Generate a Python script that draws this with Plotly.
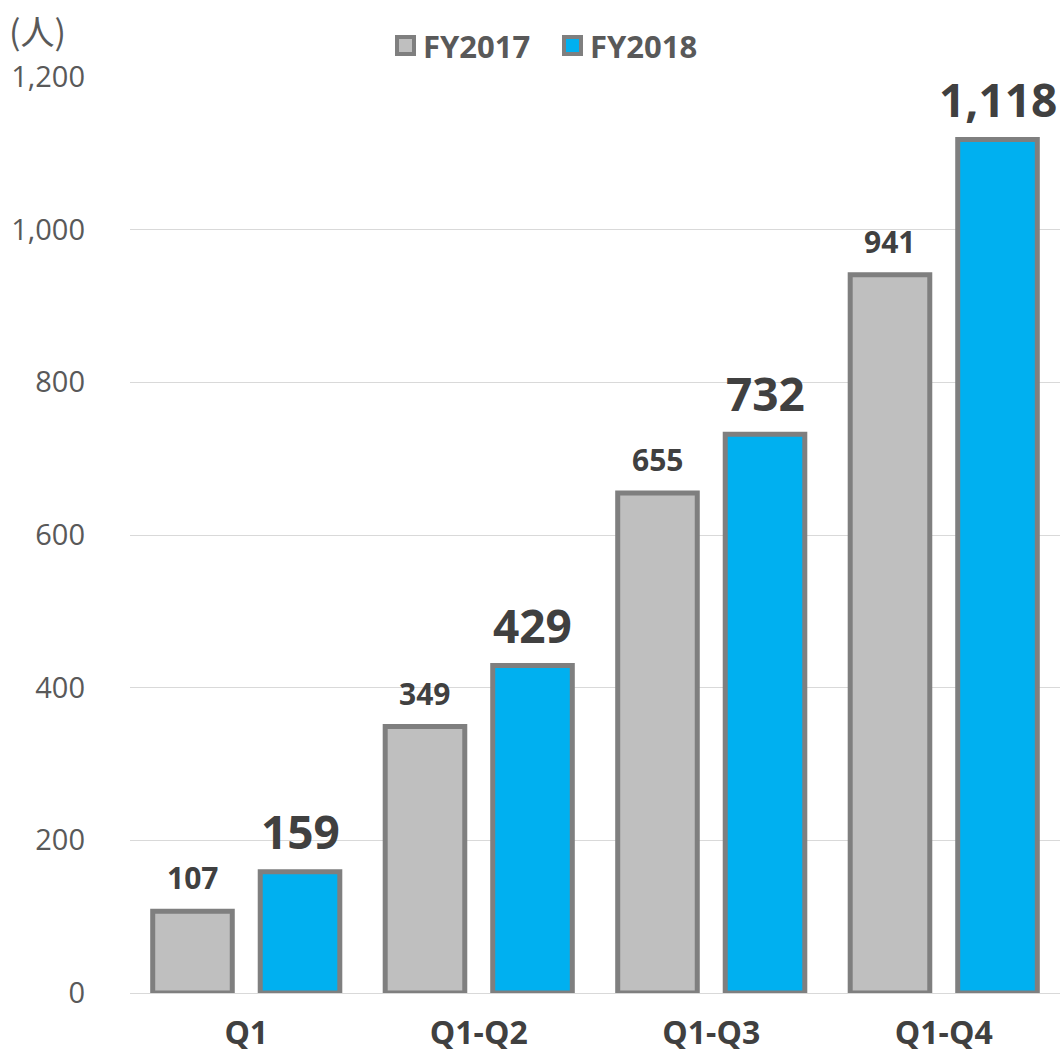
import plotly.graph_objects as go

categories = ["Q1", "Q1-Q2", "Q1-Q3", "Q1-Q4"]
fy2017 = [107, 349, 655, 941]
fy2018 = [159, 429, 732, 1118]
series_names = ["FY2017", "FY2018"]
series_colors = ["#bfbfbf", "#00b0f0"]
y_ticks = [0, 200, 400, 600, 800, 1000, 1200]
y_tick_labels = ["0", "200", "400", "600", "800", "1,000", "1,200"]
unit_label = "(人)"

FONT = "Open Sans, Noto Sans CJK JP, sans-serif"
BORDER = "#7f7f7f"

# plot area in pixels (for converting legend placement to paper coords)
L, R, T, B = 130, 1060, 77, 993
def px(x):
    return (x - L) / (R - L)
def py(y):
    return (B - y) / (B - T)

BARGAP = 0.075
slot_half = (R - L) / len(categories) * (1 - BARGAP) / 4  # offset of each bar center

fig = go.Figure()
for vals, name, col in [(fy2017, series_names[0], series_colors[0]),
                        (fy2018, series_names[1], series_colors[1])]:
    fig.add_trace(go.Bar(
        x=categories, y=vals, name=name,
        marker=dict(color=col, line=dict(color=BORDER, width=5)),
        showlegend=False, hoverinfo="x+y",
    ))

# value labels (anchored to the data values via the axes)
for vals, size, sign, ysh in [(fy2017, 30, -1, 11), (fy2018, 46, 1, 8)]:
    for c, v in zip(categories, vals):
        fig.add_annotation(x=c, y=v, xref="x", yref="y", text=f"<b>{v:,}</b>",
                           showarrow=False, xanchor="center", yanchor="bottom",
                           xshift=sign * slot_half, yshift=ysh,
                           font=dict(size=size, color="#404040", family=FONT))

fig.update_layout(
    width=1060, height=1053,
    margin=dict(l=L, r=1060 - R, t=T, b=1053 - B, autoexpand=False),
    plot_bgcolor="white", paper_bgcolor="white",
    barmode="group", bargap=BARGAP, bargroupgap=0.26,
    font=dict(family=FONT, color="#595959"),
    showlegend=False,
    xaxis=dict(showgrid=False, showline=True, linecolor="#d9d9d9", linewidth=1,
               tickfont=dict(size=32, color="#404040", family=FONT, weight="bold"),
               ticks="", ticklabelstandoff=12, automargin=False),
    yaxis=dict(range=[0, 1200], tickvals=y_ticks, ticktext=y_tick_labels,
               showgrid=True, gridcolor="#d9d9d9", gridwidth=1,
               zeroline=False, showline=False, automargin=False,
               tickfont=dict(size=29, color="#595959", family=FONT),
               ticklabelstandoff=44),
)

# unit label
fig.add_annotation(text=unit_label, xref="paper", yref="paper", x=px(7), y=py(30),
                   xanchor="left", yanchor="middle", showarrow=False,
                   font=dict(size=34, color="#595959",
                             family="Noto Sans CJK JP, Open Sans, sans-serif"))

# custom legend (square swatches with border + bold labels)
legend_items = [(395, series_names[0], series_colors[0]),
                (562, series_names[1], series_colors[1])]
for x0, name, col in legend_items:
    fig.add_shape(type="rect", xref="paper", yref="paper",
                  x0=px(x0 + 2), x1=px(x0 + 19), y0=py(54), y1=py(37),
                  fillcolor=col, line=dict(color=BORDER, width=4))
    fig.add_annotation(text=f"<b>{name}</b>", xref="paper", yref="paper",
                       x=px(x0 + 26), y=py(46), xanchor="left", yanchor="middle",
                       showarrow=False,
                       font=dict(size=31, color="#595959", family=FONT))

fig.write_html("out.html", config={"displayModeBar": False},
               post_script="document.body.style.margin='0';document.body.style.overflow='hidden';")
